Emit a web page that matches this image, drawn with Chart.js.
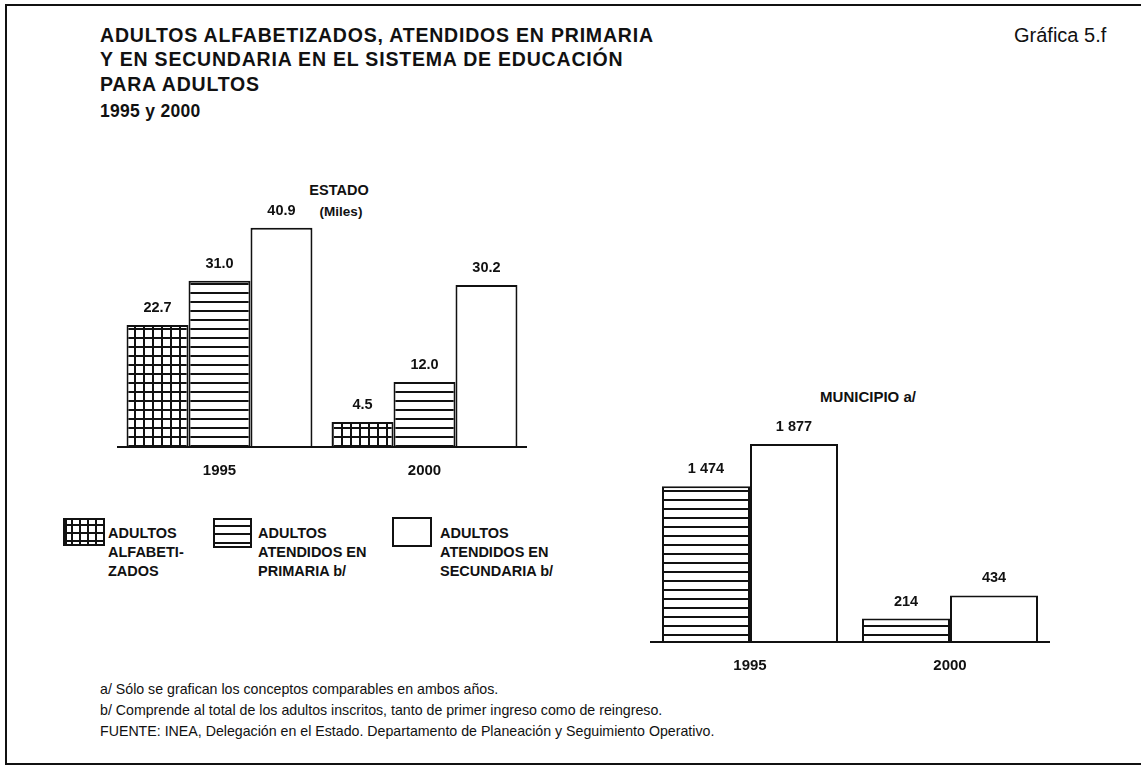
<!DOCTYPE html>
<html lang="es">
<head>
<meta charset="utf-8">
<title>Sistema de educación para adultos</title>
<script src="https://cdn.jsdelivr.net/npm/chart.js@4/dist/chart.umd.min.js"></script>
<style>
  html, body { margin: 0; padding: 0; background: #fff; }
  body { width: 1141px; height: 767px; position: relative; overflow: hidden;
         font-family: 'Liberation Sans', Arial, sans-serif; color: #111; }
  .frame { position: absolute; left: 5px; top: 4px; right: -6px; bottom: 2px;
           border: 2px solid #111; }
  .t { position: absolute; white-space: nowrap; line-height: 1; }
  .title { left: 100px; font-size: 19.5px; font-weight: bold; letter-spacing: 0.8px; }
  .num { left: 1014px; top: 25px; font-size: 20px; }
  .lbl { font-size: 14.5px; font-weight: bold; transform: translateX(-50%); }
  .note { left: 100px; font-size: 14.2px; }
  canvas { position: absolute; }
  .sw { position: absolute; border: 2px solid #111; box-sizing: border-box; background: #fff; }
  .sw.grid {
    background-image:
      repeating-linear-gradient(90deg, #111 0 2px, transparent 2px 8px),
      repeating-linear-gradient(0deg, #111 0 2px, transparent 2px 8px);
    background-position: 6px 6px;
  }
  .sw.lines {
    background-image: repeating-linear-gradient(0deg, #111 0 2px, transparent 2px 9px);
    background-position: 0 7px;
  }
  .leg { position: absolute; font-size: 14.5px; font-weight: bold; line-height: 19px; }
</style>
</head>
<body>
<div class="frame"></div>

<div class="t title" style="top:26px">ADULTOS ALFABETIZADOS, ATENDIDOS EN PRIMARIA</div>
<div class="t title" style="top:50px">Y EN SECUNDARIA EN EL SISTEMA DE EDUCACIÓN</div>
<div class="t title" style="top:75px">PARA ADULTOS</div>
<div class="t title" style="top:103px; font-size:17.5px; letter-spacing:0.3px">1995 y 2000</div>
<div class="t num">Gráfica 5.f</div>

<div class="t lbl" style="left:339px; top:183px">ESTADO</div>
<div class="t lbl" style="left:341px; top:205px; font-size:13.5px">(Miles)</div>
<div class="t lbl" style="left:868px; top:389px; font-size:15px">MUNICIPIO a/</div>

<canvas id="estado" width="430" height="320" style="left:107px; top:166px"></canvas>
<canvas id="municipio" width="420" height="290" style="left:640px; top:391px"></canvas>

<div class="sw grid" style="left:63px; top:518px; width:42px; height:28px"></div>
<div class="leg" style="left:108px; top:524px">ADULTOS<br>ALFABETI-<br>ZADOS</div>
<div class="sw lines" style="left:213px; top:518px; width:39px; height:30px"></div>
<div class="leg" style="left:258px; top:524px">ADULTOS<br>ATENDIDOS EN<br>PRIMARIA b/</div>
<div class="sw" style="left:392px; top:517px; width:40px; height:30px"></div>
<div class="leg" style="left:440px; top:524px">ADULTOS<br>ATENDIDOS EN<br>SECUNDARIA b/</div>

<div class="t note" style="top:682px">a/ Sólo se grafican los conceptos comparables en ambos años.</div>
<div class="t note" style="top:703px">b/ Comprende al total de los adultos inscritos, tanto de primer ingreso como de reingreso.</div>
<div class="t note" style="top:724px">FUENTE: INEA, Delegación en el Estado. Departamento de Planeación y Seguimiento Operativo.</div>

<script>
// años comparados
const years = ['1995', '2000']

// Estado, en miles
const estadoAlfabetizados = [22.7, 4.5]
const estadoPrimaria = [31.0, 12.0]
const estadoSecundaria = [40.9, 30.2]

// Municipio, adultos (solo conceptos comparables)
const municipioPrimaria = [1474, 214]
const municipioSecundaria = [1877, 434]

const INK = '#111'
const FONT = '"Liberation Sans", Arial, sans-serif'

function makePattern(kind) {
  const c = document.createElement('canvas')
  c.width = 9; c.height = 9
  const g = c.getContext('2d')
  g.fillStyle = '#fff'
  g.fillRect(0, 0, 9, 9)
  g.fillStyle = INK
  g.fillRect(0, 0, 9, 2)
  if (kind === 'grid') g.fillRect(0, 0, 2, 9)
  return g.createPattern(c, 'repeat')
}

// etiquetas de valor, línea base y años bajo cada grupo
const barText = {
  id: 'barText',
  afterDatasetsDraw(chart, args, opts) {
    const ctx = chart.ctx
    const area = chart.chartArea
    const x = chart.scales.x
    ctx.save()
    ctx.strokeStyle = INK
    ctx.lineWidth = 2
    ctx.beginPath()
    ctx.moveTo(area.left, area.bottom + 1)
    ctx.lineTo(area.right, area.bottom + 1)
    ctx.stroke()

    ctx.fillStyle = INK
    ctx.textAlign = 'center'
    ctx.textBaseline = 'middle'
    ctx.font = 'bold 14.5px ' + FONT
    chart.data.datasets.forEach((ds, i) => {
      chart.getDatasetMeta(i).data.forEach((bar, j) => {
        ctx.fillText(opts.fmt(ds.data[j]), bar.x, bar.y - 17)
      })
    })
    ctx.font = 'bold 15px ' + FONT
    chart.data.labels.forEach((lab, j) => {
      ctx.fillText(lab, x.getPixelForValue(j), area.bottom + 25)
    })
    ctx.restore()
  },
}

function barChart(id, datasets, max, catPct, fmt) {
  return new Chart(document.getElementById(id), {
    type: 'bar',
    data: { labels: years, datasets },
    options: {
      responsive: false,
      animation: false,
      layout: { padding: { top: 40, bottom: 40, left: 10, right: 10 } },
      datasets: { bar: { categoryPercentage: catPct, barPercentage: 1, borderWidth: 2, borderColor: INK } },
      scales: {
        x: { display: false },
        y: { display: false, min: 0, max },
      },
      plugins: { legend: { display: false }, tooltip: { enabled: false }, barText: { fmt } },
    },
    plugins: [barText],
  })
}

const grid = makePattern('grid')
const lines = makePattern('lines')

barChart('estado', [
  { label: 'Adultos alfabetizados', data: estadoAlfabetizados, backgroundColor: grid },
  { label: 'Adultos atendidos en primaria', data: estadoPrimaria, backgroundColor: lines },
  { label: 'Adultos atendidos en secundaria', data: estadoSecundaria, backgroundColor: '#fff' },
], 45, 0.907, v => v.toFixed(1))

barChart('municipio', [
  { label: 'Adultos atendidos en primaria', data: municipioPrimaria, backgroundColor: lines },
  { label: 'Adultos atendidos en secundaria', data: municipioSecundaria, backgroundColor: '#fff' },
], 2000, 0.88, v => v.toString().replace(/\B(?=(\d{3})+(?!\d))/g, ' '))
</script>
</body>
</html>
